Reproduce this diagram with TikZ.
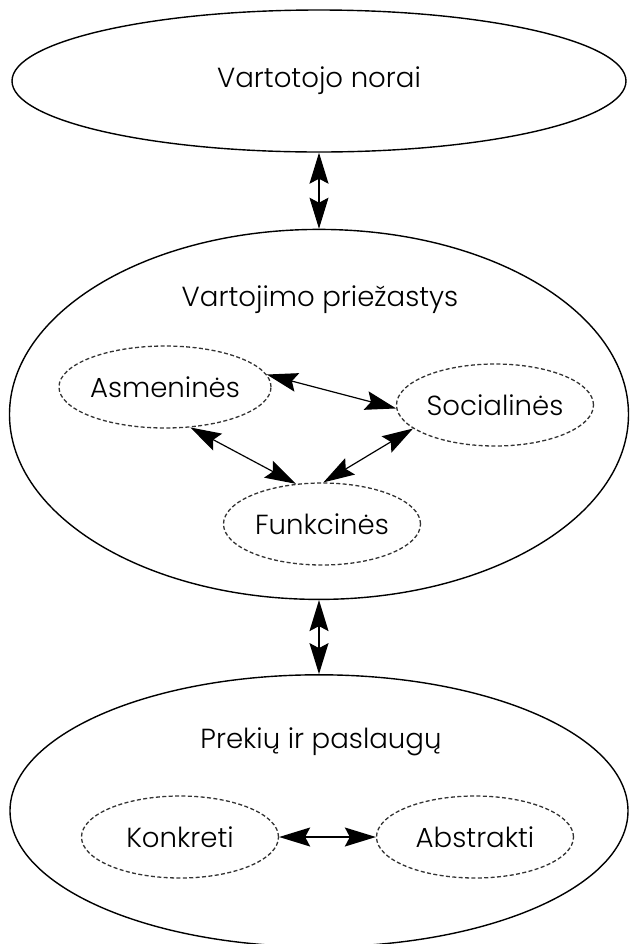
\documentclass[tikz,border=0pt]{standalone}
\usepackage{fontspec}
\setmainfont{Poppins}[UprightFont=*-Light]
\usetikzlibrary{arrows.meta,positioning,shapes.geometric}

\begin{document}
\begin{tikzpicture}[
  x=0.5pt, y=-0.5pt,
  font=\fontsize{13.8}{16}\selectfont,
  outer/.style={
    ellipse, draw=black, line width=0.7pt, inner sep=0pt
  },
  sub/.style={
    ellipse, draw=black!80, dashed, dash pattern=on 2pt off 1.2pt, line width=0.65pt,
    minimum width=98.5pt, minimum height=41pt, inner sep=0pt
  },
  txt/.style={inner sep=0pt},
  arr/.style={{Stealth[length=15.5pt,width=9.5pt,inset=2.5pt]}-{Stealth[length=15.5pt,width=9.5pt,inset=2.5pt]}, line width=0.6pt},
]
\useasboundingbox (0,0) rectangle (629,944);

\node[outer, minimum width=307pt, minimum height=71pt] (norai) at (319,81) {Vartotojo norai};
\node[outer, minimum width=309.5pt, minimum height=185pt, below=38pt of norai] (priez) {};
\node[outer, minimum width=309pt, minimum height=136pt, below=37pt of priez] (prek) {};

\node[txt] (priezt) at (320,300) {Vartojimo priežastys};
\node[txt] (prekt) at (321,742) {Prekių ir paslaugų};

\node[sub] (asm)  at (165,387) {Asmeninės};
\node[sub] (soc)  at (495,405) {Socialinės};
\node[sub] (funk) at (322,524) {Funkcinės};
\node[sub] (konk) at (180,837) {Konkreti};
\node[sub] (abs)  at (475,837) {Abstrakti};

\draw[arr] (norai.south) -- (priez.north);
\draw[arr] (priez.south) -- (prek.north);

\draw[arr] (asm.7)   -- (soc.182);
\draw[arr] (asm.-58) -- (funk.123);
\draw[arr] (funk.88) -- (soc.196);
\draw[arr] (konk) -- (abs);

\end{tikzpicture}
\end{document}
